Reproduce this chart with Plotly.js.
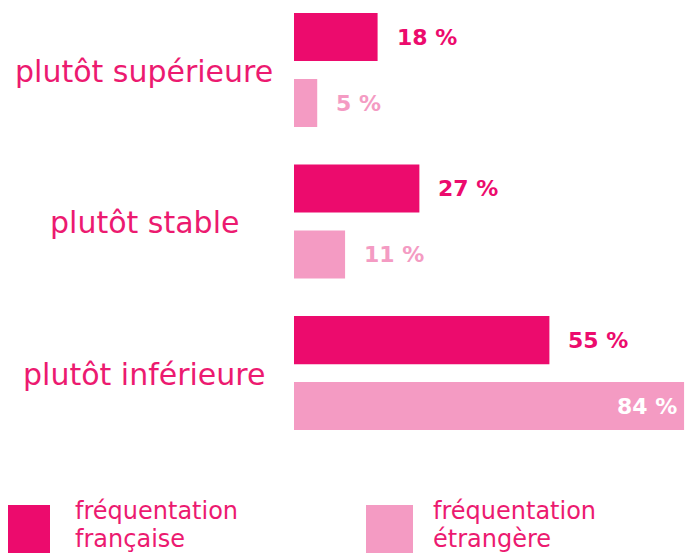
<!DOCTYPE html>
<html><head><meta charset="utf-8">
<script src="https://cdn.plot.ly/plotly-3.0.1.min.js"></script>
<style>html,body{margin:0;padding:0;background:#fff}#chart{width:685px;height:555px}</style>
</head><body><div id="chart"></div>
<script>
var categories = ["plutôt supérieure", "plutôt stable", "plutôt inférieure"];
var seriesNames = ["fréquentation<br>française", "fréquentation<br>étrangère"];
var francaise = [18, 27, 55];
var etrangere = [5, 11, 84];
var colors = ["#EC0B6D", "#F49BC3"];
var labelColor = "#EC1A70";
var FONT = "DejaVu Sans, sans-serif";

var series = [francaise, etrangere];
var traces = series.map(function(vals, i){
  return {type:"bar", orientation:"h", y:categories, x:vals, name:seriesNames[i],
    marker:{color:colors[i]}, hoverinfo:"none", textposition:"none"};
});

// plot-area geometry (pixels)
var L = 294, W = 391, PH = 470;
function px2x(px){ return (px - L) / W; }
function py2y(py){ return (PH - py) / PH; }

var ann = [];
categories.forEach(function(c){
  ann.push({xref:"paper", yref:"y", x:px2x(144), y:c, xanchor:"center", yanchor:"middle",
    text:c, showarrow:false, font:{family:FONT, size:30, color:labelColor}, yshift:-1});
});
series.forEach(function(vals, i){
  vals.forEach(function(v, j){
    var inside = v > 70;
    ann.push({xref:"x", yref:"y", x:v, y:categories[j], yshift:(i===0?33:-33),
      xanchor: inside ? "right" : "left", xshift: inside ? -5 : 17, yanchor:"middle",
      text:v + " %", showarrow:false,
      font:{family:FONT, size:22, color: inside ? "#ffffff" : colors[i], weight:"bold"}});
  });
});
// legend drawn as squares + text lines
var legSq = [[8, 50], [366, 413]];
var legTextPx = [74, 432];
var shapes = [];
seriesNames.forEach(function(n, i){
  shapes.push({type:"rect", xref:"paper", yref:"paper", x0:px2x(legSq[i][0]), x1:px2x(legSq[i][1]),
    y0:py2y(553), y1:py2y(505), line:{width:0}, fillcolor:colors[i]});
  n.split("<br>").forEach(function(line, k){
    ann.push({xref:"paper", yref:"paper", x:px2x(legTextPx[i]), y:py2y(511 + 28*k),
      xanchor:"left", yanchor:"middle", text:line, showarrow:false, borderpad:0,
      font:{family:FONT, size:24, color:labelColor}});
  });
});

var layout = {
  width:685, height:555,
  margin:{l:L, r:0, t:0, b:555-PH},
  paper_bgcolor:"#fff", plot_bgcolor:"#fff",
  barmode:"group", bargap:0.13, bargroupgap:0.27,
  showlegend:false,
  xaxis:{range:[0, 84.2], visible:false, fixedrange:true},
  yaxis:{type:"category", range:[2.64, -0.462], visible:false, fixedrange:true},
  annotations:ann, shapes:shapes
};

Plotly.newPlot("chart", traces, layout, {staticPlot:true});
</script></body></html>
